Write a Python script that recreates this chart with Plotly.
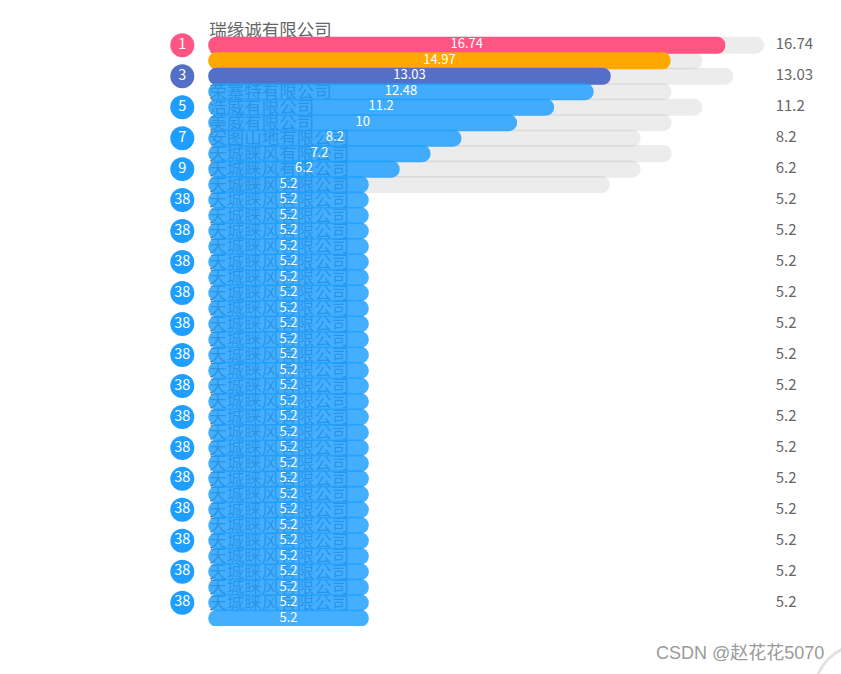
import plotly.graph_objects as go

# ---------------- data ----------------
names = (["瑞缘诚有限公司", "鑫瑞达有限公司", "恒泰有限公司", "华茂有限公司",
          "荣寨特有限公司", "浩威有限公司", "美威有限公司", "安图山地有限公司"]
         + ["天城睐风有限公司"] * 30)
values = [16.74, 14.97, 13.03, 12.48, 11.2, 10, 8.2, 7.2, 6.2] + [5.2] * 29
max_values = [18, 16, 17, 15, 16, 15, 14, 15, 14, 13] + [0] * 28
ranks = [1, 2, 3, 4, 5, 6, 7, 8, 9] + [38] * 29

bar_colors = ["#ff5582", "#ffa800", "#5470c6"] + ["rgba(30,159,255,0.83)"] * 35
rank_colors = ["#ff5582", "#ffa800", "#5470c6"] + ["#1e9fff"] * 35

rows = list(range(len(values)))
FONT = "Noto Sans CJK SC"
BAR_W = 1.1
RADIUS = 9
XR = [-1.4, 20]
YR = [len(rows) - 0.5, -1.5]

fig = go.Figure()

# company names (base subplot, drawn underneath the bars)
fig.add_trace(go.Scatter(
    x=[0.03] * len(names), y=[r - 0.9 for r in rows], mode="text",
    text=names, textposition="middle right",
    textfont=dict(family=FONT, size=17.5, color="#666666"),
    hoverinfo="skip", xaxis="x", yaxis="y"))

# rank circles on the left (every other category, like axis labels)
fig.add_trace(go.Scatter(
    x=[-0.84] * len(rows[::2]), y=rows[::2], mode="markers+text",
    marker=dict(size=24, color=rank_colors[::2], line=dict(width=0)),
    text=[str(r) for r in ranks[::2]], textposition="middle center",
    textfont=dict(family=FONT, size=14.5, color="#ffffff"),
    hoverinfo="skip", xaxis="x", yaxis="y"))

# value labels on the right
fig.add_trace(go.Scatter(
    x=[18.37] * len(rows[::2]), y=rows[::2], mode="text",
    text=[f"{v:g}" for v in values[::2]], textposition="middle right",
    textfont=dict(family=FONT, size=15, color="#666666"),
    hoverinfo="skip", xaxis="x", yaxis="y"))

# background (max) bars — floating base => both ends rounded
fig.add_trace(go.Bar(
    orientation="h", y=rows, base=[0] * len(rows), x=max_values, width=BAR_W,
    marker=dict(color="rgba(0,0,0,0.075)", cornerradius=RADIUS, line=dict(width=0)),
    hoverinfo="skip", xaxis="x2", yaxis="y2"))

# value bars
fig.add_trace(go.Bar(
    orientation="h", y=rows, base=[0] * len(rows), x=values, width=BAR_W,
    marker=dict(color=bar_colors, cornerradius=RADIUS, line=dict(width=0)),
    hoverinfo="skip", xaxis="x2", yaxis="y2"))

# value text inside bars
fig.add_trace(go.Scatter(
    x=[v / 2 for v in values], y=rows, mode="text",
    text=[f"{v:g}" for v in values], textposition="middle center",
    textfont=dict(family=FONT, size=13, color="#ffffff"),
    hoverinfo="skip", xaxis="x2", yaxis="y2"))

fig.update_layout(
    width=841, height=674,
    margin=dict(l=165, r=15, t=22, b=48),
    paper_bgcolor="#ffffff", plot_bgcolor="rgba(0,0,0,0)",
    showlegend=False, barmode="overlay",
    xaxis=dict(range=XR, visible=False, fixedrange=True),
    yaxis=dict(range=YR, visible=False, fixedrange=True),
    xaxis2=dict(range=XR, visible=False, overlaying="x", anchor="y2"),
    yaxis2=dict(range=YR, visible=False, overlaying="y", anchor="x2"),
    font=dict(family=FONT),
    shapes=[
        dict(type="circle", xref="paper", yref="paper", layer="above",
             x0=(815 - 165) / 661, x1=(909 - 165) / 661,
             y0=(626 - 739) / 604, y1=(626 - 645) / 604,
             line=dict(color="#e2e2e2", width=3), fillcolor="#ffffff"),
    ],
    annotations=[dict(
        text="CSDN @赵花花5070", xref="paper", yref="paper",
        x=(826 - 165) / 661, y=-0.045, xanchor="right", yanchor="middle",
        showarrow=False,
        font=dict(family="Liberation Sans, Noto Sans CJK SC", size=18, color="#9a9a9a"))],
)

fig.write_html("out.html")
